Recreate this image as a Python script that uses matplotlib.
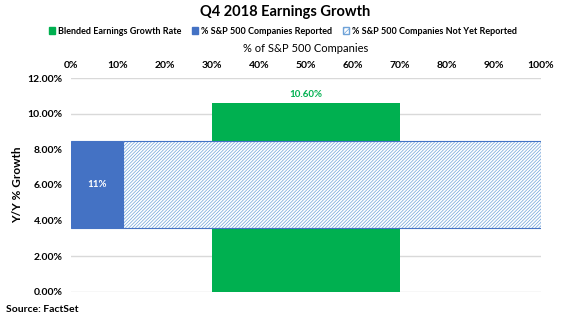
import numpy as np
import matplotlib.pyplot as plt
from matplotlib.patches import Patch

plt.rcParams['font.family'] = ['Lato', 'DejaVu Sans']
plt.rcParams['font.weight'] = 'bold'
plt.rcParams['hatch.linewidth'] = 0.5

# data
growth_label = 'Blended Earnings Growth Rate'
growth_rate = 10.60          # Y/Y % growth
reported_pct = 11            # % of S&P 500 reported
not_reported_pct = 100 - reported_pct
y_ticks = [0, 2, 4, 6, 8, 10, 12]
x_ticks = [0, 10, 20, 30, 40, 50, 60, 70, 80, 90, 100]

green = '#00B050'
blue = '#4472C4'
hatch_col = '#6FA3D8'

fig = plt.figure(figsize=(5.71, 3.23), dpi=100)
ax = fig.add_axes([0.1243, 0.096, 0.8232, 0.6625])

# vertical growth-rate bar (middle 40% of the x range)
ax.bar(50, growth_rate, width=40, color=green, zorder=2)
ax.text(50, growth_rate + 0.25, '%.2f%%' % growth_rate, ha='center', va='bottom',
        color=green, fontsize=7, fontweight='bold')

# horizontal reported / not yet reported bars
bar_y, bar_h = 6.02, 4.85
ax.barh(bar_y, reported_pct, height=bar_h, left=0, color=blue, edgecolor=blue,
        linewidth=0.8, zorder=3)
ax.barh(bar_y, not_reported_pct, height=bar_h, left=reported_pct, color='white',
        edgecolor=hatch_col, hatch='//////////', linewidth=0, zorder=3)
ax.barh(bar_y, not_reported_pct, height=bar_h, left=reported_pct, fill=False,
        edgecolor=blue, linewidth=0.8, zorder=4)
ax.text(reported_pct / 2, bar_y, '%d%%' % reported_pct, ha='center', va='center',
        color='white', fontsize=7, fontweight='bold', zorder=5)

ax.set_xlim(0, 100)
ax.set_ylim(0, 12)
ax.set_yticks(y_ticks)
ax.set_yticklabels(['%.2f%%' % v for v in y_ticks], fontsize=7.5)
ax.set_xticks(x_ticks)
ax.set_xticklabels(['%d%%' % v for v in x_ticks], fontsize=7.5)
ax.xaxis.tick_top()
ax.xaxis.set_label_position('top')
ax.set_xlabel('% of S&P 500 Companies', fontsize=8, fontweight='normal', labelpad=6)
ax.set_ylabel('Y/Y % Growth', fontsize=8.5, fontweight='bold')
ax.yaxis.set_label_coords(-0.102, 0.5)
ax.tick_params(length=0, pad=6)
ax.grid(axis='y', color='#D9D9D9', linewidth=1, zorder=0)
for s in ax.spines.values():
    s.set_visible(False)

fig.suptitle('Q4 2018 Earnings Growth', x=0.5, y=0.985, fontsize=10.5, fontweight='bold')

handles = [Patch(facecolor=green, edgecolor=green),
           Patch(facecolor=blue, edgecolor=blue),
           Patch(facecolor='white', edgecolor=hatch_col, hatch='//////')]
labels = [growth_label, '% S&P 500 Companies Reported', '% S&P 500 Companies Not Yet Reported']
fig.legend(handles, labels, loc='center', bbox_to_anchor=(0.495, 0.904), ncol=3,
           frameon=False, fontsize=6.5, handlelength=0.7, handleheight=0.7,
           handletextpad=0.3, columnspacing=1.2)

fig.text(0.01, 0.035, 'Source: FactSet', fontsize=7.5, fontweight='bold')

fig.savefig('out.png', dpi=100)
